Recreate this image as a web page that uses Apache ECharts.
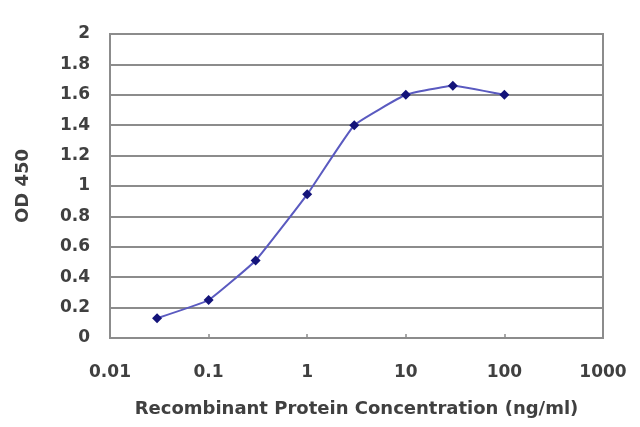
<!DOCTYPE html>
<html>
<head>
<meta charset="utf-8">
<script src="https://cdn.jsdelivr.net/npm/echarts@6/dist/echarts.min.js"></script>
<style>
  html, body { margin: 0; padding: 0; background: #fff; }
  #chart { width: 640px; height: 427px; }
</style>
</head>
<body>
<div id="chart"></div>
<script>
// concentration (ng/ml) vs OD 450
const conc = [0.03, 0.1, 0.3, 1, 3, 10, 30, 100]
const od = [0.13, 0.25, 0.51, 0.945, 1.40, 1.60, 1.66, 1.60]
const xTickLabels = ['0.01', '0.1', '1', '10', '100', '1000']

const gray = '#8c8c8c'
const txt = '#404040'
const font = 'DejaVu Sans'

const chart = echarts.init(document.getElementById('chart'))

const option = {
  animation: false,
  backgroundColor: '#fff',
  grid: {
    left: 110, right: 37, top: 34, bottom: 89,
    show: true,
    borderColor: gray,
    borderWidth: 2
  },
  xAxis: {
    type: 'log',
    logBase: 10,
    min: 0.01,
    max: 1000,
    name: 'Recombinant Protein Concentration (ng/ml)',
    nameLocation: 'middle',
    nameGap: 62,
    nameTextStyle: { color: txt, fontFamily: font, fontSize: 18, fontWeight: 'bold' },
    axisLine: { lineStyle: { color: gray, width: 2 } },
    axisTick: { inside: true, length: 4, lineStyle: { color: gray, width: 1.5 } },
    axisLabel: {
      margin: 26,
      color: txt,
      fontFamily: font,
      fontSize: 17,
      fontWeight: 'bold',
      formatter: v => {
        const i = Math.round(Math.log10(v)) + 2
        return xTickLabels[i] ?? ''
      }
    },
    splitLine: { show: false }
  },
  yAxis: {
    type: 'value',
    min: 0,
    max: 2,
    interval: 0.2,
    name: 'OD 450',
    nameLocation: 'middle',
    nameGap: 78,
    nameTextStyle: { color: txt, fontFamily: font, fontSize: 18, fontWeight: 'bold' },
    axisLine: { show: true, lineStyle: { color: gray, width: 2 } },
    axisTick: { show: false },
    axisLabel: {
      margin: 20,
      color: txt,
      fontFamily: font,
      fontSize: 17,
      fontWeight: 'bold',
      formatter: v => String(Number(v.toFixed(1)))
    },
    splitLine: { lineStyle: { color: gray, width: 2 } }
  },
  series: [
    {
      type: 'line',
      data: conc.map((c, i) => [c, od[i]]),
      smooth: 0.1,
      symbol: 'diamond',
      symbolSize: 10,
      lineStyle: { color: '#5a5ac0', width: 2 },
      itemStyle: { color: '#14147a' }
    }
  ]
}

chart.setOption(option)
</script>
</body>
</html>
